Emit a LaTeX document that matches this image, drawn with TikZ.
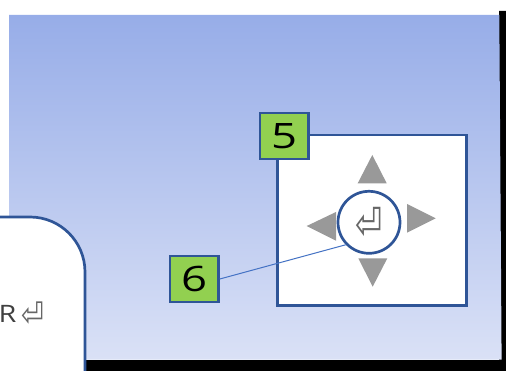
\documentclass[tikz,border=0pt]{standalone}
\usepackage{fontspec}
\setmainfont{Open Sans}
\newfontfamily\symfont{DejaVu Sans}
\definecolor{edgeblue}{HTML}{2F5597}
\definecolor{linkblue}{HTML}{4472C4}
\definecolor{leaf}{HTML}{92D050}
\definecolor{arrowgrey}{HTML}{999999}
\definecolor{skytop}{HTML}{97ADE8}
\definecolor{skybot}{HTML}{DAE1F6}
\tikzset{
  numbox/.style={draw=edgeblue,fill=leaf,line width=2.7pt,minimum width=48.5pt,minimum height=46pt,inner sep=0pt,text=black,font=\fontsize{35}{35}\selectfont},
  panel/.style={draw=edgeblue,fill=white,line width=2.7pt},
  tri/.style={fill=arrowgrey,draw=none},
  retsym/.style={inner sep=0pt,text=black!60,font=\symfont\fontsize{26}{26}\selectfont}
}
\begin{document}
\begin{tikzpicture}[x=1pt,y=-1pt]
\useasboundingbox (0,0) rectangle (506,371);
\clip (0,0) rectangle (506,371);
\fill[white] (0,0) rectangle (506,371);
% black shadow
\fill[black] (499,11) -- (506,11) -- (506,371) -- (86,371) -- (86,360) -- (499,360) -- cycle;
% gradient background
\shade[top color=skytop,bottom color=skybot] (9,15) -- (499.3,15) -- (501.6,359.5) -- (9,359.5) -- cycle;
% left panel
\draw[panel] (-10,217) -- (30,217) arc[start angle=-90,end angle=0,radius=55] -- (85,380) -- (-10,380) -- cycle;
\node[anchor=base west,inner sep=0pt,font=\fontsize{24}{24}\selectfont,text=black!75] (rlabel) at (-1.5,323) {\scalebox{1.2}[1]{R}};
\node[retsym] (rsym) at (33,314.5) {\scalebox{1.05}[1.3]{⏎}};
% big panel
\draw[panel] (277.5,135) rectangle (466.5,305.5);
% triangles
\fill[tri] (372.3,155) -- (386.7,183.3) -- (357.7,183.3) -- cycle;
\fill[tri] (306.7,226) -- (336,212) -- (336,240.7) -- cycle;
\fill[tri] (435.7,218.3) -- (407,204) -- (407,232.7) -- cycle;
\fill[tri] (372.7,286.7) -- (358.3,258.3) -- (387.3,258.3) -- cycle;
% circle
\node[circle,draw=edgeblue,fill=white,line width=2.7pt,minimum size=62pt,inner sep=0pt] (dial) at (369,222.3) {};
\node[retsym] (dsym) at (369,223) {\scalebox{1.25}[1.7]{⏎}};
% number boxes
\node[numbox] (n5) at (284.2,136) {\scalebox{1.3}[1]{5}};
\node[numbox] (n6) at (194.2,279) {\scalebox{1.3}[1]{6}};
% connector
\draw[linkblue,line width=1pt] (n6.east) -- (dial.224);
\end{tikzpicture}
\end{document}
